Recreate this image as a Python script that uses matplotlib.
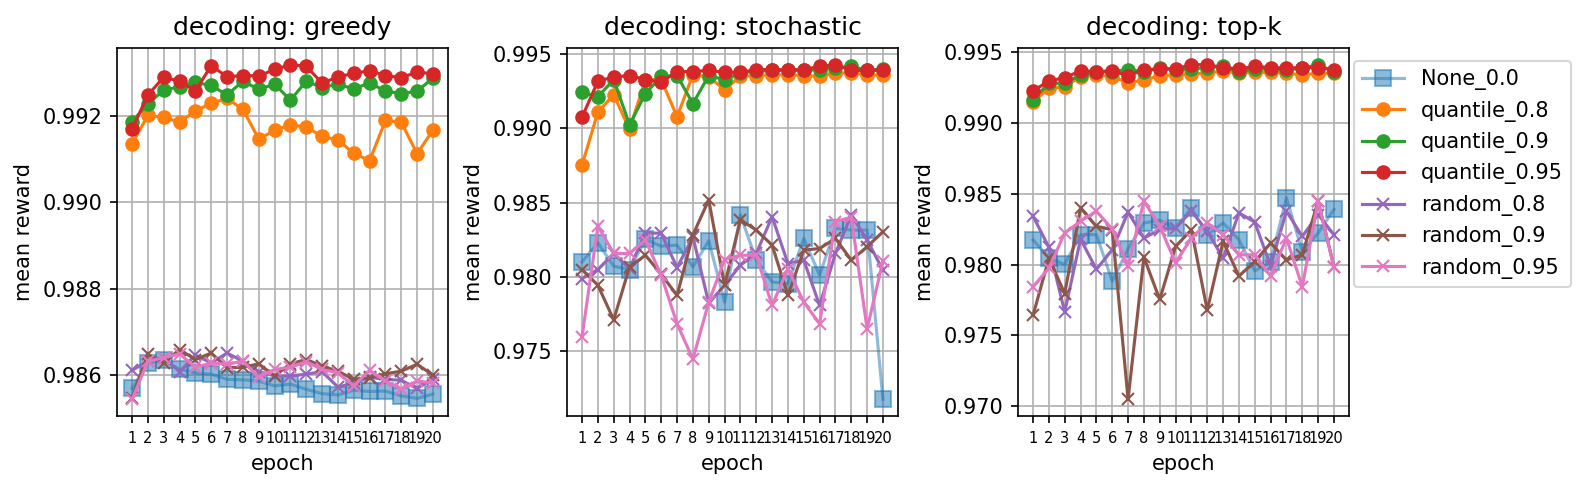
import matplotlib
matplotlib.use("Agg")
import matplotlib.pyplot as plt
import numpy as np

epochs = list(range(1, 21))
decodings = ["greedy", "stochastic", "top-k"]
series_names = ["None_0.0", "quantile_0.8", "quantile_0.9", "quantile_0.95",
                "random_0.8", "random_0.9", "random_0.95"]

# greedy
greedy_none = [0.98569, 0.98628, 0.98634, 0.98613, 0.98605, 0.98602, 0.98590, 0.98589, 0.98586, 0.98575,
               0.98579, 0.98567, 0.98557, 0.98554, 0.98565, 0.98562, 0.98563, 0.98552, 0.98546, 0.98556]
greedy_q08 = [0.99135, 0.99201, 0.99196, 0.99185, 0.99211, 0.99229, 0.99240, 0.99215, 0.99146, 0.99166,
              0.99179, 0.99174, 0.99152, 0.99144, 0.99113, 0.99096, 0.99189, 0.99185, 0.99112, 0.99167]
greedy_q09 = [0.99186, 0.99228, 0.99259, 0.99267, 0.99277, 0.99270, 0.99248, 0.99280, 0.99261, 0.99273,
              0.99236, 0.99280, 0.99265, 0.99273, 0.99262, 0.99276, 0.99257, 0.99251, 0.99257, 0.99287]
greedy_q095 = [0.99169, 0.99248, 0.99289, 0.99280, 0.99257, 0.99316, 0.99290, 0.99293, 0.99292, 0.99307,
               0.99318, 0.99315, 0.99275, 0.99290, 0.99298, 0.99304, 0.99293, 0.99288, 0.99301, 0.99297]
greedy_r08 = [0.98611, 0.98632, 0.98640, 0.98608, 0.98646, 0.98628, 0.98651, 0.98632, 0.98608, 0.98598,
              0.98598, 0.98602, 0.98608, 0.98572, 0.98582, 0.98595, 0.98590, 0.98588, 0.98569, 0.98592]
greedy_r09 = [0.98548, 0.98648, 0.98628, 0.98659, 0.98636, 0.98651, 0.98617, 0.98618, 0.98626, 0.98598,
              0.98626, 0.98636, 0.98621, 0.98609, 0.98590, 0.98594, 0.98603, 0.98609, 0.98625, 0.98600]
greedy_r095 = [0.98544, 0.98632, 0.98640, 0.98649, 0.98618, 0.98628, 0.98625, 0.98632, 0.98595, 0.98613,
               0.98618, 0.98631, 0.98613, 0.98605, 0.98575, 0.98611, 0.98586, 0.98567, 0.98586, 0.98582]

# stochastic
stoch_none = [0.98101, 0.98230, 0.98072, 0.98050, 0.98252, 0.98207, 0.98214, 0.98068, 0.98243, 0.97831,
              0.98417, 0.98113, 0.97966, 0.97955, 0.98259, 0.98011, 0.98327, 0.98315, 0.98315, 0.97178]
stoch_q08 = [0.98752, 0.99107, 0.99225, 0.98991, 0.99326, 0.99326, 0.99076, 0.99359, 0.99344, 0.99259,
             0.99348, 0.99353, 0.99359, 0.99359, 0.99353, 0.99348, 0.99371, 0.99371, 0.99355, 0.99359]
stoch_q09 = [0.99241, 0.99210, 0.99326, 0.99022, 0.99232, 0.99348, 0.99353, 0.99165, 0.99353, 0.99326,
             0.99371, 0.99382, 0.99388, 0.99388, 0.99388, 0.99393, 0.99406, 0.99415, 0.99388, 0.99397]
stoch_q095 = [0.99074, 0.99315, 0.99344, 0.99353, 0.99326, 0.99310, 0.99380, 0.99380, 0.99388, 0.99375,
              0.99375, 0.99393, 0.99393, 0.99393, 0.99393, 0.99415, 0.99426, 0.99388, 0.99388, 0.99388]
stoch_r08 = [0.97989, 0.98050, 0.98158, 0.98056, 0.98297, 0.98293, 0.98063, 0.98270, 0.97824, 0.97944,
             0.98079, 0.98158, 0.98405, 0.98090, 0.98113, 0.97809, 0.98158, 0.98417, 0.98248, 0.98045]
stoch_r09 = [0.98050, 0.97944, 0.97712, 0.98068, 0.98146, 0.98018, 0.97876, 0.98282, 0.98518, 0.97944,
             0.98383, 0.98315, 0.98214, 0.97876, 0.98180, 0.98191, 0.98259, 0.98113, 0.98203, 0.98304]
stoch_r095 = [0.97599, 0.98342, 0.98158, 0.98158, 0.98248, 0.98011, 0.97685, 0.97448, 0.97831, 0.98117,
              0.98146, 0.98146, 0.97809, 0.98056, 0.97831, 0.97685, 0.98372, 0.98401, 0.97651, 0.98108]

# top-k
topk_none = [0.98175, 0.98045, 0.98002, 0.98211, 0.98211, 0.97884, 0.98111, 0.98294, 0.98313, 0.98258,
             0.98400, 0.98211, 0.98294, 0.98175, 0.97955, 0.98021, 0.98472, 0.98092, 0.98223, 0.98389]
topk_q08 = [0.99148, 0.99243, 0.99255, 0.99326, 0.99338, 0.99326, 0.99283, 0.99302, 0.99333, 0.99338,
            0.99345, 0.99350, 0.99367, 0.99350, 0.99357, 0.99357, 0.99350, 0.99338, 0.99350, 0.99350]
topk_q09 = [0.99164, 0.99279, 0.99279, 0.99338, 0.99357, 0.99362, 0.99374, 0.99362, 0.99386, 0.99374,
            0.99381, 0.99390, 0.99398, 0.99357, 0.99381, 0.99381, 0.99374, 0.99386, 0.99410, 0.99362]
topk_q095 = [0.99226, 0.99295, 0.99319, 0.99367, 0.99362, 0.99367, 0.99333, 0.99374, 0.99381, 0.99381,
             0.99410, 0.99410, 0.99390, 0.99381, 0.99398, 0.99390, 0.99386, 0.99390, 0.99390, 0.99374]
topk_r08 = [0.98341, 0.98123, 0.97666, 0.98180, 0.97967, 0.98104, 0.98370, 0.98187, 0.98246, 0.98258,
            0.98377, 0.98235, 0.98045, 0.98365, 0.98299, 0.97991, 0.98377, 0.98199, 0.98353, 0.98211]
topk_r09 = [0.97642, 0.98045, 0.97796, 0.98400, 0.98270, 0.98246, 0.97050, 0.98052, 0.97754, 0.98128,
            0.98246, 0.97678, 0.98164, 0.97919, 0.98021, 0.98152, 0.98033, 0.98069, 0.98448, 0.97985]
topk_r095 = [0.97844, 0.97974, 0.98223, 0.98306, 0.98377, 0.98251, 0.97991, 0.98448, 0.98270, 0.98014,
             0.98187, 0.98294, 0.98211, 0.98069, 0.98069, 0.97919, 0.98187, 0.97844, 0.98448, 0.97981]

panel_data = {
    "greedy": [greedy_none, greedy_q08, greedy_q09, greedy_q095, greedy_r08, greedy_r09, greedy_r095],
    "stochastic": [stoch_none, stoch_q08, stoch_q09, stoch_q095, stoch_r08, stoch_r09, stoch_r095],
    "top-k": [topk_none, topk_q08, topk_q09, topk_q095, topk_r08, topk_r09, topk_r095],
}

colors = ["tab:blue", "tab:orange", "tab:green", "tab:red", "tab:purple", "tab:brown", "tab:pink"]

fig = plt.figure(figsize=(1586 / 150, 488 / 150), dpi=150)
lefts = [117 / 1586, 567 / 1586, 1018 / 1586]
w = 331 / 1586
b = 1 - 416 / 488
h = (416 - 48) / 488

axes = []
for i, dec in enumerate(decodings):
    ax = fig.add_axes([lefts[i], b, w, h])
    for name, vals, c in zip(series_names, panel_data[dec], colors):
        if name.startswith("None"):
            ax.plot(epochs, vals, marker="s", markersize=8, color=c, alpha=0.5, label=name)
        elif name.startswith("quantile"):
            ax.plot(epochs, vals, marker="o", color=c, label=name)
        else:
            ax.plot(epochs, vals, marker="x", color=c, label=name)
    ax.set_xticks(epochs)
    ax.set_xticklabels([str(e) for e in epochs], fontsize=7)
    ax.grid(True)
    ax.set_title(f"decoding: {dec}", fontsize=12)
    ax.set_xlabel("epoch")
    ax.set_ylabel("mean reward")
    axes.append(ax)

axes[-1].legend(loc="upper left", bbox_to_anchor=(1.015, 0.965), borderaxespad=0)

fig.savefig("out.png", dpi=150)
